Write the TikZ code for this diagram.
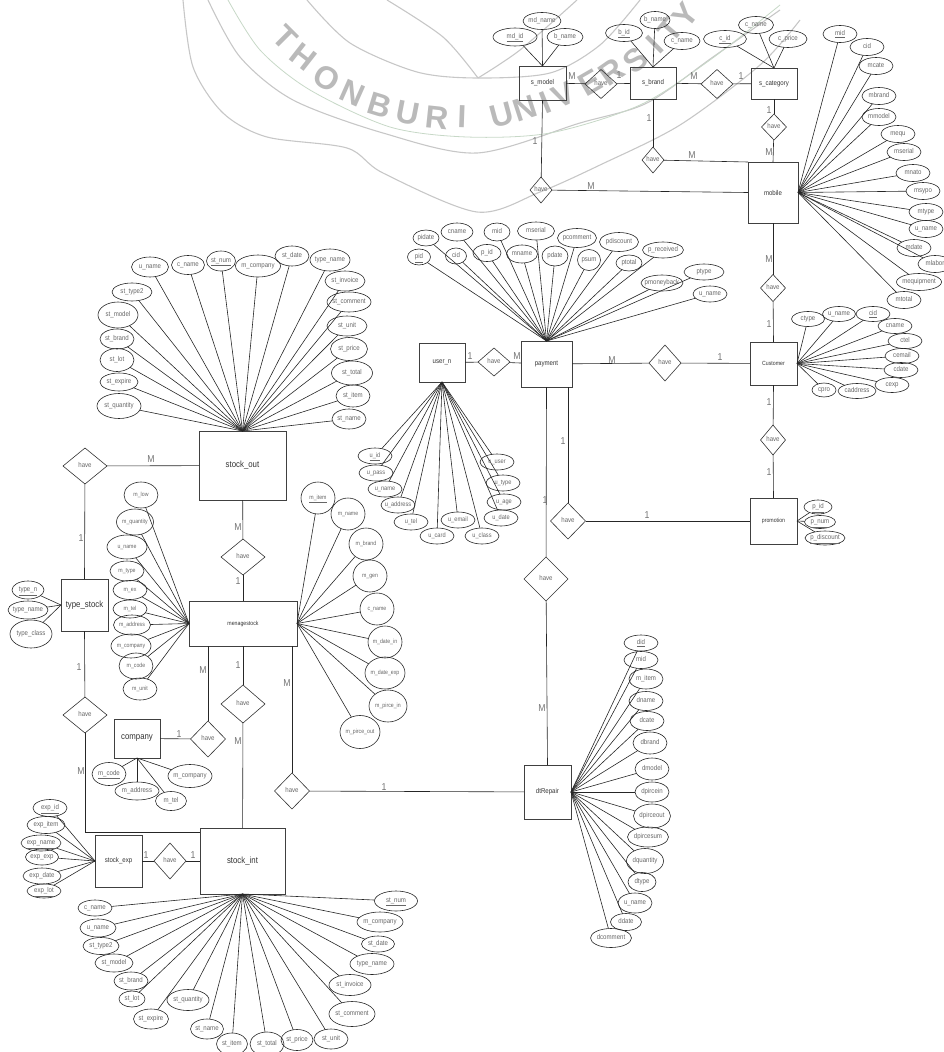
\documentclass[tikz,border=0pt]{standalone}
\usepackage{fontspec}
\setmainfont{Liberation Sans}[FakeStretch=0.87]
\newfontfamily\markfont{Liberation Sans}
\usetikzlibrary{shapes.geometric}
\newcommand{\zerotxt}[1]{\raisebox{-0.5ex}[0pt][0pt]{\makebox[0pt]{#1}}}
\newcommand{\attrs}[3][\fontsize{7}{8}\selectfont]{%
	\foreach \nm/\x/\y/\w/\h/\txt in {#3}{
		\node[attr, font=#1, minimum width=\w pt, minimum height=\h pt] (\nm) at (\x,\y) {\zerotxt{\txt}};
		\draw[conn] (\nm) -- (#2);
	}%
}
\tikzset{
	conn/.style={draw=black!85, line width=0.6pt},
	attr/.style={ellipse, draw=black!85, line width=0.6pt, inner sep=0pt, outer sep=0pt, text=black!60},
	ent/.style={rectangle, draw=black!75, line width=0.8pt, inner sep=0pt, outer sep=0pt, text=black!80, font=\fontsize{7}{8}\selectfont},
	rel/.style={diamond, draw=black!80, line width=0.6pt, inner sep=0pt, outer sep=0pt, text=black!60, font=\fontsize{7}{8}\selectfont},
	card/.style={text=black!55, inner sep=0pt, font=\fontsize{10}{11}\selectfont},
	wmark/.style={text=black!27, inner sep=0pt, font=\markfont\bfseries\fontsize{32}{33}\selectfont},
	wline/.style={draw=black!22, line width=1.1pt},
	wgreen/.style={draw=green!30!black!22, line width=0.8pt}
}
\begin{document}
\begin{tikzpicture}[x=1pt,y=-1pt]
	\useasboundingbox (0,0) rectangle (943,1052);

	\draw[wline] plot[smooth] coordinates {(183,0) (193,67) (223,113) (267,137) (347,148) (383,173) (477,212) (540,192) (600,165) (680,125) (760,65) (800,20)};
	\draw[wline] plot[smooth] coordinates {(208,0) (240,57) (293,100) (383,133) (477,153) (580,123) (647,103) (713,57) (780,10)};
	\draw[wgreen] plot[smooth] coordinates {(228,0) (260,50) (310,90) (390,127) (467,137) (550,133) (640,105) (710,60) (780,5)};
	\draw[wline] plot[smooth] coordinates {(307,0) (350,43) (417,72) (477,78) (550,73) (600,45) (640,0)};
	\draw[wline] plot[smooth] coordinates {(387,0) (443,37) (478,78)};
	\draw[wline] plot[smooth] coordinates {(478,78) (520,50) (577,0)};
	\foreach \ltr/\x/\y/\r in {T/285/38/-45,H/303/57/-38,O/327/78/-30,N/353/93/-24,B/380/105/-17,U/408/113/-11,R/437/118/-6,I/462/117/-2,U/502/115/15,N/525/108/18,I/545/103/22,V/564/95/25,E/590/83/30,R/612/72/35,S/636/60/40,I/655/45/45,T/670/30/50,Y/685/15/52}
		\node[wmark, rotate=\r] at (\x,\y) {\ltr};

	\node[ent, minimum width=47pt, minimum height=34pt] (smodel) at (542.5,83) {s\_model};
	\node[ent, minimum width=46pt, minimum height=32pt] (sbrand) at (653,83) {s\_brand};
	\node[ent, minimum width=46pt, minimum height=31pt] (scategory) at (774,83.5) {s\_category};
	\node[ent, minimum width=50pt, minimum height=61pt] (mobile) at (773,192.5) {mobile};
	\node[ent, minimum width=47pt, minimum height=43pt, font=\fontsize{6}{7}\selectfont] (customer) at (773.5,363.5) {Customer};
	\node[ent, minimum width=47pt, minimum height=46pt, font=\fontsize{6}{7}\selectfont] (promotion) at (773.5,521) {promotion};
	\node[ent, minimum width=51pt, minimum height=46pt] (payment) at (546.5,364) {payment};
	\node[ent, minimum width=46pt, minimum height=39pt] (usern) at (442,362.5) {user\_n};
	\node[ent, minimum width=47pt, minimum height=54pt] (dtrepair) at (547.5,792) {dtRepair};
	\node[ent, minimum width=87pt, minimum height=69pt, font=\fontsize{9}{10}\selectfont] (stockout) at (242.5,465.5) {stock\_out};
	\node[ent, minimum width=108pt, minimum height=45pt, font=\fontsize{6}{7}\selectfont] (managestock) at (243,623.5) {menagestock};
	\node[ent, minimum width=47pt, minimum height=52pt, font=\fontsize{9}{10}\selectfont] (typestock) at (84.5,605) {type\_stock};
	\node[ent, minimum width=46pt, minimum height=39pt, font=\fontsize{9}{10}\selectfont] (company) at (137,738.5) {company};
	\node[ent, minimum width=47pt, minimum height=52pt] (stockexp) at (118.5,861) {stock\_exp};
	\node[ent, minimum width=85pt, minimum height=66pt, font=\fontsize{9}{10}\selectfont] (stockint) at (242.5,861) {stock\_int};

	\node[rel, minimum width=32pt, minimum height=29pt] (havemb) at (601,84) {\zerotxt{have}};
	\node[rel, minimum width=32pt, minimum height=29pt] (havebc) at (717,84) {\zerotxt{have}};
	\node[rel, minimum width=25pt, minimum height=26pt] (havecm) at (774,127) {\zerotxt{have}};
	\node[rel, minimum width=22pt, minimum height=26pt] (havebm) at (653,160) {\zerotxt{have}};
	\node[rel, minimum width=22pt, minimum height=26pt] (havemm) at (541,190) {\zerotxt{have}};
	\node[rel, minimum width=25pt, minimum height=27pt] (havemc) at (773,288) {\zerotxt{have}};
	\node[rel, minimum width=32pt, minimum height=36pt] (havepc) at (665,363) {\zerotxt{have}};
	\node[rel, minimum width=25pt, minimum height=30pt] (havecp) at (773,440) {\zerotxt{have}};
	\node[rel, minimum width=32pt, minimum height=28pt] (haveup) at (494,362) {\zerotxt{have}};
	\node[rel, minimum width=35pt, minimum height=36pt] (havepp) at (568,521) {\zerotxt{have}};
	\node[rel, minimum width=44pt, minimum height=44pt] (havepd) at (546,579) {\zerotxt{have}};
	\node[rel, minimum width=44pt, minimum height=36pt] (haveot) at (85,466) {\zerotxt{have}};
	\node[rel, minimum width=44pt, minimum height=36pt] (haveti) at (85,715) {\zerotxt{have}};
	\node[rel, minimum width=44pt, minimum height=36pt] (haveom) at (243,557) {\zerotxt{have}};
	\node[rel, minimum width=44pt, minimum height=38pt] (havemi) at (243,704) {\zerotxt{have}};
	\node[rel, minimum width=35pt, minimum height=36pt] (havecy) at (208,739) {\zerotxt{have}};
	\node[rel, minimum width=35pt, minimum height=36pt] (havemd) at (292,791) {\zerotxt{have}};
	\node[rel, minimum width=32pt, minimum height=36pt] (haveei) at (170,861) {\zerotxt{have}};

	\draw[conn] (smodel) -- (havemb);
	\draw[conn] (havemb) -- (sbrand);
	\draw[conn] (sbrand) -- (havebc);
	\draw[conn] (havebc) -- (scategory);
	\draw[conn] (scategory.south) -- (havecm);
	\draw[conn] (havecm) -- (mobile.north);
	\draw[conn] (sbrand) -- (havebm);
	\draw[conn] (havebm) -- (mobile.north west);
	\draw[conn] (smodel.south) -- (havemm);
	\draw[conn] (havemm) -- (mobile.west);
	\draw[conn] (mobile.south) -- (havemc);
	\draw[conn] (havemc) -- (customer.north);
	\draw[conn] (customer) -- (havepc);
	\draw[conn] (havepc) -- (payment);
	\draw[conn] (customer.south) -- (havecp);
	\draw[conn] (havecp) -- (promotion.north);
	\draw[conn] (usern) -- (haveup);
	\draw[conn] (haveup) -- (payment);
	\draw[conn] (havepp.north) -- (havepp.north |- payment.south);
	\draw[conn] (havepp) -- (promotion);
	\draw[conn] (payment.south) -- (havepd);
	\draw[conn] (havepd) -- (dtrepair.north);
	\draw[conn] (haveot) -- (stockout);
	\draw[conn] (haveot) -- (typestock.north);
	\draw[conn] (typestock.south) -- (haveti);
	\coordinate (bendti) at (85,832);
	\draw[conn] (haveti.south) -- (bendti) -- (bendti -| stockint.west);
	\draw[conn] (stockout) -- (haveom);
	\draw[conn] (haveom) -- (managestock);
	\draw[conn] (managestock) -- (havemi);
	\draw[conn] (havemi) -- (stockint);
	\draw[conn] (havecy.north) -- (havecy.north |- managestock.south);
	\draw[conn] (company) -- (havecy);
	\draw[conn] (havemd.north) -- (havemd.north |- managestock.south);
	\draw[conn] (havemd) -- (dtrepair);
	\draw[conn] (stockexp) -- (haveei);
	\draw[conn] (haveei) -- (stockint);

	\attrs{smodel.north}{md_id/515/37/44/18/\underline{md\_id}, md_name/542/21/38/17/md\_name, md_bname/565/37/36/17/b\_name}
	\attrs{sbrand.north}{b_id/624/33/37/17/\underline{b\_id}, b_name/655/20/30/17/b\_name, b_cname/682/41/36/17/c\_name}
	\attrs{scategory.north}{c_id/725/39/43/17/\underline{c\_id}, c_name/756/25/35/17/c\_name, c_price/788/39/38/17/c\_price}
	\attrs{mobile.east}{mo_mid/840/34/34/17/\underline{mid}, mo_cid/867/47/34/17/cid, mo_mcate/876/66/34/17/mcate, mo_mbrand/879/96/34/17/mbrand, mo_mmodel/879/117/34/17/mmodel, mo_mequ/898/134/34/17/mequ, mo_mserial/904/152/34/17/mserial, mo_mnato/913/173/34/17/mnato, mo_msypo/923/191/34/17/msypo, mo_mtype/926/212/34/17/mtype, mo_uname/926/229/34/17/u\_name, mo_mdate/914/248/34/17/mdate, mo_mlabor/935/264/34/17/mlabor, mo_mequipment/919/282/45/17/mequipment, mo_mtotal/904/300/34/17/mtotal}
	\attrs{customer.east}{cu_ctype/808/319/33/15/ctype, cu_uname/839/314/33/15/u\_name, cu_cid/873/314/34/15/\underline{cid}, cu_cname/895/326/34/15/cname, cu_ctel/905/341/34/15/ctel, cu_cemail/902/356/34/15/cemail, cu_cdate/901/370/34/15/cdate, cu_cexp/892/385/34/15/cexp, cu_cpro/824/390/24/14/cpro, cu_caddress/857/391/38/15/caddress}
	\attrs{promotion.east}{pr_id/818/507/28/14/\underline{p\_id}, pr_num/820/522/31/13/\underline{p\_num}, pr_discount/825/538/40/14/\underline{p\_discount}}
	\attrs{payment.north}{pa_pid/419/257/23/16/\underline{pid}, pa_pidate/426/238/26/16/pidate, pa_cname/457/232/32/18/cname, pa_cid/456/256/21/16/cid, pa_pidd/487/253/28/17/p\_id, pa_mid/497/232/26/18/mid, pa_mname/522/254/31/18/mname, pa_mserial/536/231/37/18/mserial, pa_pdate/555/256/26/20/pdate, pa_pcomment/577/238/39/19/pcomment, pa_psum/589/260/23/21/psum, pa_pdiscount/619/242/39/19/pdiscount, pa_ptotal/629/263/26/16/ptotal, pa_preceived/663/250/41/16/p\_received, pa_pmoneyback/662/283/42/16/pmoneyback, pa_ptype/704/272/40/16/ptype, pa_uname/710/294/34/16/u\_name}
	\attrs[\fontsize{6.5}{7}\selectfont]{usern.south}{us_id/375/456/34/16/\underline{u\_id}, us_pass/376/473/34/16/u\_pass, us_name/385/489/34/16/u\_name, us_address/398/505/34/16/u\_address, us_tel/411/522/34/16/u\_tel, us_card/437/536/34/16/u\_card, us_email/458/520/34/16/u\_email, us_class/482/536/34/16/u\_class, us_date/501/518/34/16/u\_date, us_age/504/502/34/16/u\_age, us_type/503/483/34/16/u\_type, us_user/497/462/34/16/u\_user}
	\attrs{stockout.north}{so_uname/150/267/37/20/u\_name, so_cname/188/265/33/19/c\_name, so_num/221/261/29/20/\underline{st\_num}, so_company/258/266/45/22/m\_company, so_date/292/256/34/20/st\_date, so_tname/330/260/40/22/type\_name, so_invoice/345/281/40/20/st\_invoice, so_comment/349/302/44/20/st\_comment, so_unit/347/326/40/20/st\_unit, so_price/349/349/37/23/st\_price, so_total/352/373/41/24/st\_total, so_item/353/396/34/22/st\_item, so_name/349/419/34/20/st\_name, so_quantity/119/406/44/25/st\_quantity, so_expire/119/382/38/18/st\_expire, so_lot/117/360/34/23/st\_lot, so_brand/117/339/34/20/st\_brand, so_model/118/315/40/26/st\_model, so_type/132/292/40/18/st\_type2}
	\attrs{typestock.west}{ty_n/28/590/32/18/\underline{type\_n}, ty_name/28/610/40/18/type\_name, ty_class/31/634/42/28/type\_class}
	\attrs[\fontsize{6}{7}\selectfont]{managestock.west}{ml_low/141/495/34/26/m\_low, ml_quantity/135/522/37/26/m\_quantity, ml_uname/127/547/40/24/u\_name, ml_type/127/571/34/20/m\_type, ml_ex/130/590/34/19/m\_ex, ml_tel/130/609/34/18/m\_tel, ml_address/132/625/37/20/m\_address, ml_company/131/646/40/24/m\_company, ml_code/136/666/34/26/m\_code, ml_unit/140/689/34/22/m\_unit}
	\attrs[\fontsize{6}{7}\selectfont]{managestock.east}{mr_item/318/498/34/32/\underline{m\_item}, mr_name/348/514/34/32/m\_name, mr_brand/366/544/34/32/m\_brand, mr_gen/370/576/34/32/m\_gen, mr_cname/377/609/34/32/c\_name, mr_datein/385/642/34/32/m\_date\_in, mr_dateexp/385/673/40/32/m\_date\_exp, mr_pircein/388/706/38/32/m\_pirce\_in, mr_pirceout/360/732/40/33/m\_pirce\_out}
	\attrs{company.south}{co_code/109/774/34/23/\underline{m\_code}, co_address/137/791/44/18/m\_address, co_tel/171/801/31/19/m\_tel, co_company/190/776/44/23/m\_company}
	\attrs{stockexp.west}{ex_id/50/808/34/17/\underline{exp\_id}, ex_item/46/825/38/17/exp\_item, ex_name/41/843/40/16/\underline{exp\_name}, ex_exp/42/857/33/16/exp\_exp, ex_date/42/876/38/16/exp\_date, ex_lot/44/891/34/14/\underline{exp\_lot}}
	\attrs{stockint.south}{si_num/396/901/43/20/\underline{st\_num}, si_company/380/922/46/20/m\_company, si_date/378/944/33/16/st\_date, si_tname/372/964/44/21/type\_name, si_invoice/350/985/42/21/st\_invoice, si_comment/352/1014/46/25/st\_comment, si_unit/331/1039/34/20/st\_unit, si_price/297/1040/32/21/st\_price, si_total/267/1044/34/24/st\_total, si_item/232/1044/31/22/st\_item, si_name/207/1029/33/20/st\_name, si_quantity/188/1000/42/21/st\_quantity, si_expire/151/1019/35/20/st\_expire, si_lot/132/999/26/16/st\_lot, si_brand/131/981/34/18/st\_brand, si_model/114/963/38/18/st\_model, si_type/101/946/36/17/st\_type2, si_uname/98/928/36/18/u\_name, si_cname/95/908/34/16/c\_name}
	\attrs{dtrepair.east}{dr_did/641/643/34/16/\underline{did}, dr_mid/641/660/34/17/mid, dr_mitem/646/679/34/20/m\_item, dr_dname/646/701/34/19/dname, dr_dcate/647/721/34/19/dcate, dr_dbrand/650/743/34/22/dbrand, dr_dmodel/652/769/34/22/dmodel, dr_dpircein/652/792/34/20/dpircein, dr_dpirceout/652/816/37/24/dpirceout, dr_dpircesum/648/837/41/20/dpircesum, dr_dquantity/645/861/37/25/dquantity, dr_dtype/642/882/28/19/dtype, dr_uname/635/903/34/20/u\_name, dr_ddate/626/922/31/17/ddate, dr_dcomment/611/938/41/19/dcomment}

	\foreach \lab/\x/\y [count=\i] in {M/572/76, 1/619/75, M/694/76, 1/741/76, 1/769/110, M/769/152, 1/649/118, M/692/155, 1/535/141, M/591/186, M/769/259, 1/769/324, 1/720/357, 1/769/402, 1/769/472, 1/647/515, 1/470/356, M/517/356, M/612/360, 1/563/441, 1/545/500, M/542/708, M/151/459, 1/81/538, M/238/527, 1/238/581, 1/79/667, M/203/670, 1/238/665, M/287/683, 1/179/734, M/238/741, M/81/771, 1/146/855, 1/193/855, 1/384/787}
		\node[card] (card\i) at (\x,\y) {\lab};
\end{tikzpicture}
\end{document}
